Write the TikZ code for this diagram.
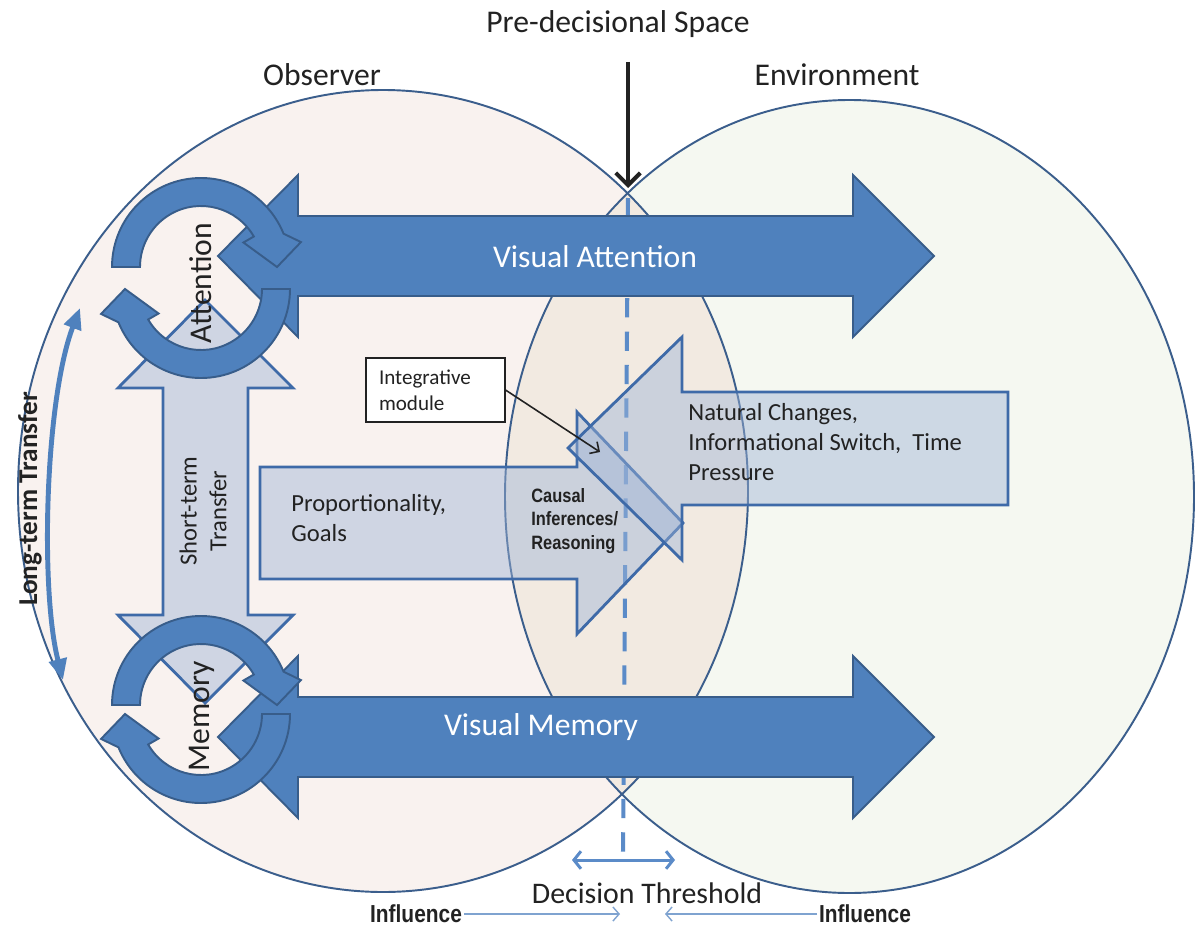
\documentclass[tikz,border=0pt]{standalone}
\usepackage{fontspec}
\setmainfont{Carlito}
\newfontfamily\narrowfont[FakeStretch=0.85]{Liberation Sans}
\usetikzlibrary{arrows.meta}

\definecolor{obsfill}{HTML}{F9F2EF}
\definecolor{envfill}{HTML}{F5F8F1}
\definecolor{lensfill}{HTML}{F2EAE1}
\definecolor{rim}{HTML}{3B5E8C}
\definecolor{darkarrow}{HTML}{4F81BD}
\definecolor{darkrim}{HTML}{385D8A}
\definecolor{palearrow}{HTML}{9DB3D6}
\definecolor{palerim}{HTML}{3E6AA8}
\definecolor{dashblue}{HTML}{5B8BC8}
\definecolor{infblue}{HTML}{7FA3D0}
\definecolor{ink}{HTML}{222222}

\tikzset{
  oval/.style={draw=rim, line width=1.1pt},
  bigarrow/.style={fill=darkarrow, draw=darkrim, line width=1.1pt},
  pale/.style={fill=palearrow, fill opacity=0.45, draw=palerim, line width=1.6pt},
  bigtext/.style={inner sep=0pt, text=ink, font=\fontsize{18}{21}\selectfont},
  midtext/.style={inner sep=0pt, text=ink, font=\fontsize{14}{17}\selectfont},
  causetext/.style={inner sep=0pt, text=ink, anchor=west, align=left,
    font=\narrowfont\bfseries\fontsize{11}{13.5}\selectfont},
  inftext/.style={inner sep=1pt, text=ink, font=\narrowfont\bfseries\fontsize{14}{16}\selectfont},
  intbox/.style={draw=ink, fill=white, line width=0.6pt, text=ink, align=left,
    text width=2.26cm, inner xsep=0.26cm, minimum height=1.28cm,
    font=\fontsize{12}{14.7}\selectfont},
  dashline/.style={draw=dashblue, line width=2.3pt, dash pattern=on 11pt off 8pt},
}

\begin{document}
\begin{tikzpicture}[x=0.02cm, y=-0.02cm]
    \useasboundingbox (0,0) rectangle (1195,926);
    \fill[white] (0,0) rectangle (1195,926);

    \fill[envfill] (849.5,496.5) ellipse [x radius=344.5, y radius=396.5];
    \fill[obsfill] (383,491) ellipse [x radius=365, y radius=401];
    \begin{scope}
      \clip (849.5,496.5) ellipse [x radius=344.5, y radius=396.5];
      \fill[lensfill] (383,491) ellipse [x radius=365, y radius=401];
    \end{scope}
    \draw[oval] (849.5,496.5) ellipse [x radius=344.5, y radius=396.5];
    \draw[oval] (383,491) ellipse [x radius=365, y radius=401];

    \coordinate (dtop) at (628,198);
    \coordinate (dbot) at (623,852);
    \draw[dashline] (dtop) -- (dbot);

    \foreach \cy in {256,737} {
      \draw[bigarrow] (218,\cy) -- (298,\cy-81) -- (298,\cy-40) -- (853,\cy-40) -- (853,\cy-81)
        -- (934,\cy) -- (853,\cy+81) -- (853,\cy+40) -- (298,\cy+40) -- (298,\cy+81) -- cycle;
    }

    \draw[pale] (205,300) -- (293,388) -- (248,388) -- (248,615) -- (293,615) -- (205,703)
      -- (118,615) -- (163,615) -- (163,388) -- (118,388) -- cycle;
    \draw[pale] (260,467) -- (577,467) -- (577,412) -- (683,523) -- (577,634) -- (577,579)
      -- (260,579) -- cycle;
    \draw[pale] (1008,392) -- (682,392) -- (682,337) -- (568,448) -- (682,560) -- (682,505)
      -- (1008,505) -- cycle;

    \foreach \cy/\dy in {267/22, 705/9} {
      \begin{scope}[shift={(201,\cy)}]
        \draw[bigarrow] (180:61) -- (180:89) arc [start angle=180, end angle=338, radius=89]
          -- (346:103) -- (360:76) -- (330:49) -- (330:61)
          arc [start angle=330, end angle=180, radius=61] -- cycle;
      \end{scope}
      \begin{scope}[shift={(201,\cy+\dy)}]
        \draw[bigarrow] (0:61) -- (0:89) arc [start angle=0, end angle=158, radius=89]
          -- (166:103) -- (180:76) -- (150:49) -- (150:61)
          arc [start angle=150, end angle=0, radius=61] -- cycle;
      \end{scope}
    }

    \node[bigtext] (pre) at (618,24) {Pre-decisional Space};
    \node[bigtext] (obs) at (322,75) {Observer};
    \node[bigtext] (env) at (837,75) {Environment};
    \node[bigtext, text=white] (vatt) at (595,257) {Visual Attention};
    \node[bigtext, text=white] (vmem) at (541,727) {Visual Memory};
    \node[bigtext, rotate=90] (att) at (201,283) {Attention};
    \node[bigtext, rotate=90] (mem) at (202,716) {Memory};
    \node[midtext, rotate=90, align=center] (stt) at (203,511) {Short-term\\Transfer};
    \node[midtext, rotate=90, font=\bfseries\fontsize{15.5}{18}\selectfont] (ltt) at (30,499) {Long-term Transfer};
    \node[midtext, anchor=west, align=left] (prop) at (291,518) {Proportionality,\\Goals};
    \node[midtext, anchor=west, align=left] (nat) at (688,442) {Natural Changes,\\Informational Switch,~ Time\\Pressure};
    \node[causetext] (cause) at (531,521) {Causal\\Inferences/\\Reasoning};
    \node[intbox] (intmod) at (435.5,390) {Integrative\\module};
    \node[bigtext, font=\fontsize{17}{20}\selectfont] (dec) at (647,893) {Decision Threshold};
    \node[inftext] (infl) at (416,914) {Influence};
    \node[inftext] (infr) at (865,914) {Influence};

    \coordinate (cross) at (628,188);
    \draw[ink, line width=2.3pt, -{Straight Barb[length=7pt, width=14pt]}]
      ([yshift=-0.48cm]pre.south -| cross) -- (cross);
    \coordinate (intend) at (600,452);
    \draw[ink, line width=0.9pt, -{Straight Barb[length=4pt, width=8pt]}] (intmod.east) -- (intend);

    \coordinate (ltTop) at (80,308);
    \coordinate (ltBot) at (63,680);
    \draw[darkarrow, line width=2.8pt, {Triangle[length=12pt, width=10pt]}-{Triangle[length=12pt, width=10pt]}]
      (ltTop) .. controls (45,400) and (40,590) .. (ltBot);

    \coordinate (thl) at (572,860);
    \coordinate (thr) at (675,860);
    \draw[dashblue, line width=1.7pt, {Straight Barb[length=4pt, width=10pt]}-{Straight Barb[length=4pt, width=10pt]}]
      (thl) -- (thr);

    \coordinate (infltip) at (620,914);
    \coordinate (infrtip) at (665,914);
    \draw[infblue, line width=0.8pt, -{Straight Barb[length=3.5pt, width=8pt]}] (infl.east) -- (infltip);
    \draw[infblue, line width=0.8pt, -{Straight Barb[length=3.5pt, width=8pt]}] (infr.west) -- (infrtip);
  \end{tikzpicture}
\end{document}
